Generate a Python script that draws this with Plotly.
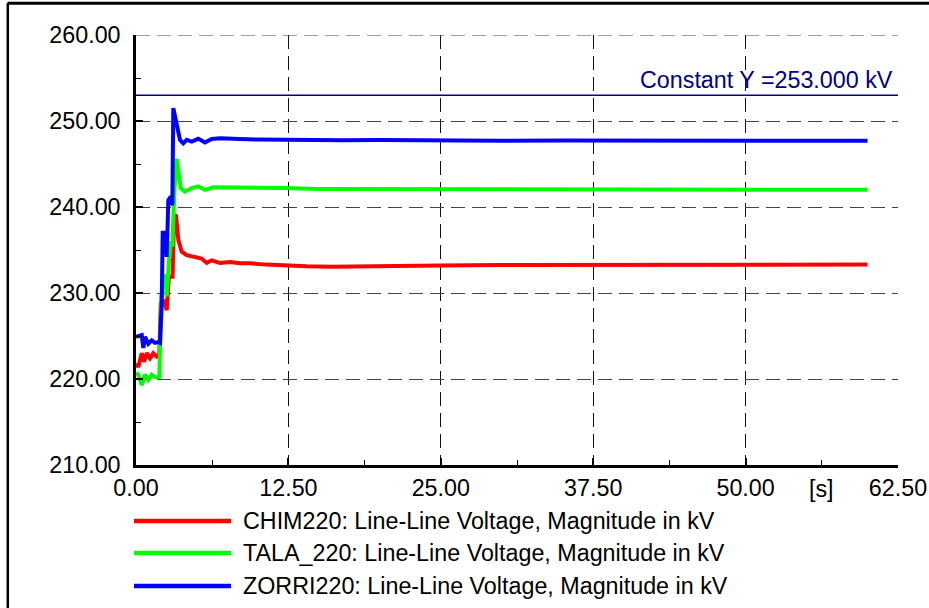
import plotly.graph_objects as go

# ---- data ----
t_chim = [0, 0.19, 0.47, 0.66, 0.88, 1.15, 1.42, 1.7, 1.91, 2.03, 2.3, 2.52, 2.7, 3.0, 3.12, 3.28,
          3.47, 3.75, 4.16, 4.98, 5.39, 5.8, 6.21, 6.89, 7.71, 8.53, 9.35, 10.7, 12.6, 14, 16, 18,
          20, 22, 25, 30, 35, 40, 45, 50, 55, 60]
v_chim = [221.8, 221.4, 223.0, 222.0, 223.0, 222.4, 223.0, 222.6, 222.8, 228.8, 229.0, 228.0, 231.9,
          231.9, 238.9, 239.1, 236.2, 234.8, 234.4, 234.2, 234.0, 233.5, 233.8, 233.5, 233.6, 233.45,
          233.45, 233.3, 233.15, 233.1, 233.05, 233.1, 233.1, 233.15, 233.2, 233.25, 233.25, 233.3,
          233.3, 233.3, 233.3, 233.3]

t_tala = [0, 0.19, 0.47, 0.74, 1.01, 1.29, 1.56, 1.91, 2.08, 2.24, 2.4, 2.52, 2.71, 2.85, 2.98, 3.15,
          3.34, 3.47, 3.67, 4.02, 4.57, 5.11, 5.66, 6.34, 7.44, 8.53, 10, 12, 15, 20, 25, 30, 40, 50, 60]
v_tala = [220.7, 220.5, 219.3, 220.5, 219.9, 220.5, 220.2, 220.2, 229.6, 232.1, 231.9, 229.6, 233.8,
          236.0, 235.4, 242.0, 245.6, 243.9, 242.2, 241.8, 242.2, 242.4, 242.0, 242.3, 242.3, 242.3,
          242.2, 242.2, 242.1, 242.1, 242.05, 242.0, 242.0, 242.0, 242.0]

t_zorri = [0, 0.47, 0.6, 0.74, 1.01, 1.29, 1.56, 1.83, 1.97, 2.11, 2.19, 2.38, 2.52, 2.65, 2.85, 2.98,
           3.06, 3.34, 3.61, 3.88, 4.16, 4.57, 5.11, 5.66, 6.21, 6.89, 7.71, 8.53, 10, 12, 14, 17, 20,
           25, 30, 35, 40, 45, 50, 55, 60]
v_zorri = [224.9, 225.1, 223.6, 224.9, 224.1, 224.5, 224.2, 224.3, 224.2, 228.8, 237.0, 237.0, 234.2,
           240.8, 241.2, 240.2, 251.5, 249.8, 247.8, 247.4, 247.8, 247.6, 247.95, 247.5, 247.9, 248.0,
           247.9, 247.9, 247.85, 247.8, 247.85, 247.75, 247.8, 247.7, 247.7, 247.72, 247.7, 247.7,
           247.7, 247.7, 247.7]

const_level = 253.0
const_label = "Constant Y =253.000 kV"

x_ticks = [0, 12.5, 25, 37.5, 50, 62.5]
x_tick_text = ["0.00", "12.50", "25.00", "37.50", "50.00", "62.50"]
y_ticks = [210, 220, 230, 240, 250, 260]
y_tick_text = ["210.00", "220.00", "230.00", "240.00", "250.00", "260.00"]
x_unit = "[s]"
x_unit_pos = 56.25

series_names = ["CHIM220: Line-Line Voltage, Magnitude in kV",
                "TALA_220: Line-Line Voltage, Magnitude in kV",
                "ZORRI220: Line-Line Voltage, Magnitude in kV"]
series_colors = ["#ff0000", "#00ff00", "#0000ff"]

# ---- figure ----
W, H = 929, 608
L, R, T, B = 136, 31, 35, 143
pw, ph = W - L - R, H - T - B

def px_x(p):
    return (p - L) / pw

def px_y(p):
    return (H - B - p) / ph

FONT = "Liberation Sans, Arial, sans-serif"
FS = 23.3

fig = go.Figure()
fig.add_trace(go.Scatter(x=[x_ticks[0], x_ticks[-1]], y=[const_level, const_level], mode="lines",
                         line=dict(color="#000080", width=1.5), showlegend=False, hoverinfo="skip"))
for t, v, c in zip([t_chim, t_tala, t_zorri], [v_chim, v_tala, v_zorri], series_colors):
    fig.add_trace(go.Scatter(x=t, y=v, mode="lines", line=dict(color=c, width=4),
                             showlegend=False))

fig.update_layout(
    width=W, height=H,
    margin=dict(l=L, r=R, t=T, b=B, autoexpand=False),
    paper_bgcolor="white", plot_bgcolor="white",
    font=dict(family=FONT, size=FS, color="black"),
    xaxis=dict(range=[0, 62.5], tickvals=x_ticks, ticktext=x_tick_text, automargin=False,
               showline=True, linecolor="black", linewidth=2.5,
               ticks="inside", ticklen=7, tickwidth=1.5, tickcolor="black",
               showgrid=True, gridcolor="#111111", gridwidth=1, griddash="14px,7px",
               zeroline=False,
               minor=dict(dtick=6.25, tick0=0, ticks="inside", ticklen=5, tickwidth=1.2,
                          tickcolor="black", showgrid=False)),
    yaxis=dict(range=[210, 260], tickvals=y_ticks, ticktext=y_tick_text, automargin=False,
               showline=True, linecolor="black", linewidth=2.5,
               ticks="inside", ticklen=7, tickwidth=1.5, tickcolor="black",
               showgrid=True, gridcolor="#444444", gridwidth=1, griddash="14px,7px",
               zeroline=False, ticklabelstandoff=8,
               minor=dict(dtick=5, tick0=210, ticks="inside", ticklen=5, tickwidth=1.2,
                          tickcolor="black", showgrid=False)),
)

shapes = []
annotations = []
# outer frame (top and left visible)
shapes.append(dict(type="line", xref="paper", yref="paper", x0=px_x(7.5), x1=px_x(W + 5),
                   y0=px_y(3.2), y1=px_y(3.2), line=dict(color="black", width=3)))
shapes.append(dict(type="line", xref="paper", yref="paper", x0=px_x(7.8), x1=px_x(7.8),
                   y0=px_y(3.2), y1=px_y(H + 5), line=dict(color="black", width=2.5)))
# top grid line at the axis maximum
shapes.append(dict(type="line", xref="x", yref="y", x0=x_ticks[0], x1=x_ticks[-1],
                   y0=y_ticks[-1], y1=y_ticks[-1],
                   line=dict(color="#444444", width=1, dash="14px,7px")))

# legend
leg_y = [521, 553, 586]
for name, c, py in zip(series_names, series_colors, leg_y):
    shapes.append(dict(type="line", xref="paper", yref="paper", x0=px_x(134), x1=px_x(231),
                       y0=px_y(py), y1=px_y(py), line=dict(color=c, width=4.5)))
    annotations.append(dict(xref="paper", yref="paper", x=px_x(241), y=px_y(py), text=name,
                            showarrow=False, xanchor="left", yanchor="middle",
                            font=dict(size=FS, color="black")))

# constant label
annotations.append(dict(xref="x", yref="y", x=x_ticks[-1], y=const_level, text=const_label,
                        showarrow=False, xanchor="right", yanchor="bottom", xshift=-3, yshift=0,
                        font=dict(size=FS, color="#000080")))
# unit label
annotations.append(dict(xref="x", yref="paper", x=x_unit_pos, y=px_y(489), text=x_unit,
                        showarrow=False, xanchor="center", yanchor="middle",
                        font=dict(size=FS, color="black")))

fig.update_layout(shapes=shapes, annotations=annotations)
fig.write_html("out.html", config={"displayModeBar": False},
               post_script="document.body.style.margin='0';document.body.style.overflow='hidden';")
